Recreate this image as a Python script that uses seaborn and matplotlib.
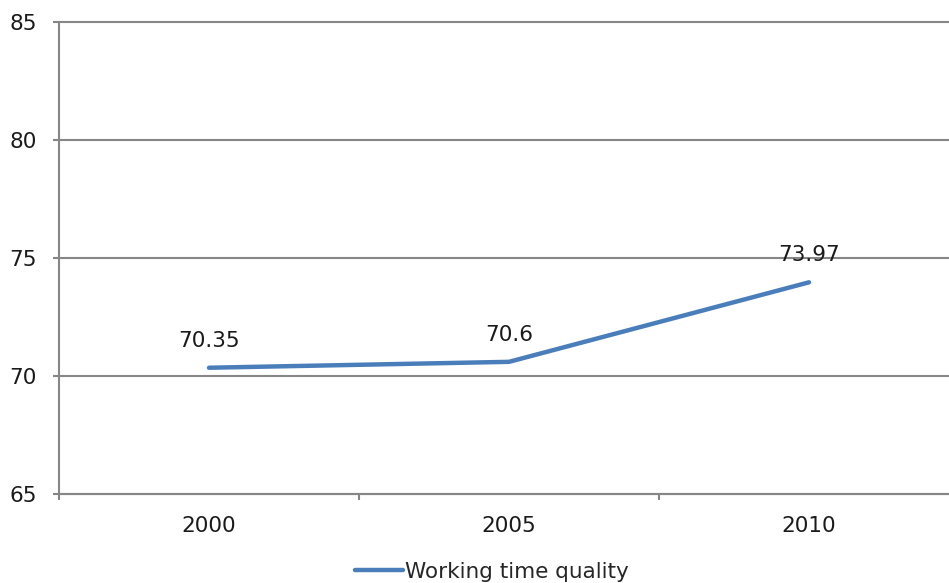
import pandas as pd
import matplotlib.pyplot as plt
import seaborn as sns

years = ['2000', '2005', '2010']
quality = [70.35, 70.6, 73.97]
series_name = 'Working time quality'

df = pd.DataFrame({'Year': years, 'Value': quality})

sns.set_style("white")
plt.rcParams['font.family'] = ['DejaVu Sans']

GRAY = '#868686'
BLUE = '#4a7ebb'

fig = plt.figure(figsize=(9.49, 5.83), dpi=100)
ax = fig.add_axes([59 / 949, 1 - 494 / 583, 900 / 949, 472 / 583])

sns.lineplot(x='Year', y='Value', data=df, ax=ax, color=BLUE, linewidth=3.2,
             label=series_name, solid_capstyle='round', solid_joinstyle='miter')

for i, v in enumerate(quality):
    ax.annotate('{:g}'.format(v), (i, v), xytext=(0, 19.5), textcoords='offset points',
                ha='center', va='center', fontsize=15.5, color='#1a1a1a')

ax.set_ylim(65, 85)
ax.set_yticks([65, 70, 75, 80, 85])
ax.set_xlim(-0.5, 2.5)

# category boundaries as major ticks, labels on minor ticks
ax.set_xticks([-0.5, 0.5, 1.5, 2.5])
ax.set_xticklabels([])
ax.set_xticks([0, 1, 2], minor=True)
ax.set_xticklabels(years, minor=True)
ax.tick_params(axis='x', which='major', direction='out', length=4.5, width=1.5,
               color=GRAY, bottom=True)
ax.tick_params(axis='x', which='minor', length=0, pad=16, labelsize=15.5,
               labelcolor='#1a1a1a')
ax.tick_params(axis='y', direction='out', length=4.5, width=1.5, color=GRAY,
               left=True, pad=11.5, labelsize=15.5, labelcolor='#1a1a1a')

ax.yaxis.grid(True, color=GRAY, linewidth=1.5)
ax.set_axisbelow(True)
for gl in ax.get_ygridlines():
    gl.set_clip_on(False)
for side in ['top', 'right']:
    ax.spines[side].set_visible(False)
for side in ['left', 'bottom']:
    ax.spines[side].set_color(GRAY)
    ax.spines[side].set_linewidth(1.5)

ax.set_xlabel('')
ax.set_ylabel('')

ax.legend(loc='center', bbox_to_anchor=(492 / 949, 11 / 583), bbox_transform=fig.transFigure,
          frameon=False, fontsize=15.5, handlelength=2.2, handletextpad=0.1,
          borderpad=0, borderaxespad=0)

fig.savefig('out.png', dpi=100)
